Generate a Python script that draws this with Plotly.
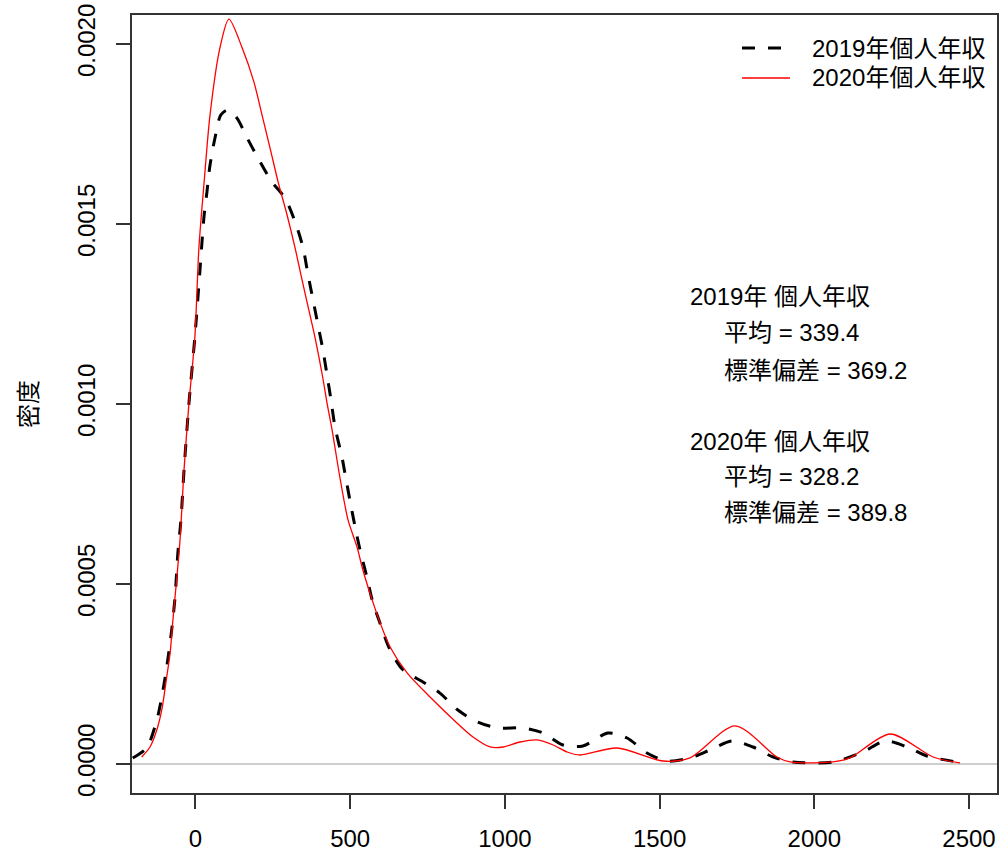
import plotly.graph_objects as go

# 2019 income density (black dashed)
x2019 = [-203, -158, -125, -109, -93, -77, -66, -57, -47, -37, -21, -2, 15, 21, 28, 37, 47, 63, 82, 105,
         134, 167, 202, 247, 289, 322, 348, 364, 380, 396, 412, 425, 438, 451, 474, 483, 499, 516, 532,
         554, 571, 596, 629, 671, 735, 790, 848, 910, 978, 1059, 1123, 1188, 1252, 1333, 1395, 1459,
         1524, 1598, 1663, 1734, 1802, 1867, 1931, 2060, 2157, 2229, 2300, 2364, 2461]
y2019 = [0.0000167, 0.0000444, 0.000122, 0.000186, 0.000269, 0.000372, 0.000464, 0.000586, 0.000678,
         0.000817, 0.001003, 0.001186, 0.001378, 0.00145, 0.001525, 0.001589, 0.001664, 0.001739,
         0.001803, 0.001817, 0.001794, 0.001739, 0.001683, 0.001617, 0.001572, 0.001506, 0.001433,
         0.001358, 0.001289, 0.001219, 0.00115, 0.001081, 0.001011, 0.000936, 0.00085, 0.000808,
         0.000733, 0.000658, 0.000594, 0.000519, 0.000456, 0.000392, 0.000317, 0.000261, 0.000228,
         0.000197, 0.00015, 0.000117, 0.0001, 0.0001, 0.0000861, 0.0000528, 0.00005, 0.0000861,
         0.0000722, 0.0000306, 0.0000083, 0.0000167, 0.0000389, 0.0000639, 0.0000472, 0.0000194,
         0.0000056, 0.0000056, 0.0000333, 0.0000639, 0.0000472, 0.0000222, 0.0000056]

# 2020 income density (red solid)
x2020 = [-174, -147, -125, -109, -93, -82, -73, -61, -50, -37, -21, -2, 11, 28, 47, 79, 108, 151, 189,
         215, 241, 267, 296, 322, 341, 360, 386, 411, 425, 441, 467, 493, 522, 541, 571, 596, 629, 684,
         758, 845, 897, 952, 994, 1049, 1104, 1156, 1201, 1243, 1362, 1511, 1598, 1744, 1879, 1922,
         2060, 2115, 2245, 2384, 2471]
y2020 = [0.0000194, 0.0000472, 0.0000944, 0.00015, 0.000242, 0.000308, 0.0004, 0.000511, 0.000622,
         0.000817, 0.001003, 0.001186, 0.001433, 0.001617, 0.001803, 0.001989, 0.002069, 0.001989,
         0.001894, 0.001803, 0.001711, 0.001617, 0.001525, 0.001433, 0.001358, 0.001285, 0.001186,
         0.001075, 0.001003, 0.00093, 0.000795, 0.000678, 0.000603, 0.000539, 0.000456, 0.000394,
         0.000325, 0.000253, 0.000186, 0.000114, 0.000075, 0.0000472, 0.0000472, 0.0000611,
         0.0000667, 0.0000528, 0.0000333, 0.000025, 0.0000444, 0.0000083, 0.0000167, 0.000106,
         0.0000194, 0.0000056, 0.0000056, 0.0000167, 0.0000833, 0.0000194, 0.0000028]

series_names = ["2019年個人年収", "2020年個人年収"]
x_ticks = [0, 500, 1000, 1500, 2000, 2500]
y_ticks = [0, 0.0005, 0.001, 0.0015, 0.002]
y_ticklabels = ["0.0000", "0.0005", "0.0010", "0.0015", "0.0020"]
stats_lines = ["2019年 個人年収", "平均 = 339.4", "標準偏差 = 369.2",
               "2020年 個人年収", "平均 = 328.2", "標準偏差 = 389.8"]

FONT = "Liberation Sans, Arial, Noto Sans CJK JP, sans-serif"

W, H = 1000, 858
L, R, T, B = 132, 3, 15, 65
pw, ph = W - L - R, H - T - B

def px_to_paper_x(px):
    return (px - L) / pw

def px_to_paper_y(py):
    return 1 - (py - T) / ph

styles = [dict(color="black", width=3, dash="13px,13px"),
          dict(color="#FF0000", width=1.3)]

fig = go.Figure()
fig.add_hline(y=0, line=dict(color="#BEBEBE", width=1.5), layer="below")
fig.add_trace(go.Scatter(x=x2019, y=y2019, mode="lines", name=series_names[0],
                         line=dict(shape="spline", smoothing=0.8, **styles[0]), showlegend=False))
fig.add_trace(go.Scatter(x=x2020, y=y2020, mode="lines", name=series_names[1],
                         line=dict(shape="spline", smoothing=0.8, **styles[1]), showlegend=False))

# manual legend (R-style, no box)
legend_rows = [48, 78]
for name, st, ry in zip(series_names, styles, legend_rows):
    fig.add_shape(type="line", xref="paper", yref="paper",
                  x0=px_to_paper_x(742), x1=px_to_paper_x(790),
                  y0=px_to_paper_y(ry), y1=px_to_paper_y(ry), line=st)
    fig.add_annotation(text=name, xref="paper", yref="paper",
                       x=px_to_paper_x(810), y=px_to_paper_y(ry),
                       xanchor="left", yanchor="middle", showarrow=False,
                       font=dict(size=24, color="black", family=FONT))

# stats text block
line_y = [297, 333, 370, 441, 476, 512]
line_x = [688, 722, 722, 688, 722, 722]
for txt, lx, ly in zip(stats_lines, line_x, line_y):
    fig.add_annotation(text=txt, xref="paper", yref="paper",
                       x=px_to_paper_x(lx), y=px_to_paper_y(ly),
                       xanchor="left", yanchor="middle", showarrow=False,
                       font=dict(size=24, color="black", family=FONT))

axis_common = dict(showline=True, linecolor="#333333", linewidth=1.5, mirror=True,
                   ticks="outside", ticklen=14, tickwidth=1.5, tickcolor="#333333",
                   showgrid=False, zeroline=False, automargin=False,
                   tickfont=dict(size=24, color="black", family=FONT))

fig.update_layout(
    width=W, height=H,
    margin=dict(l=L, r=R, t=T, b=B),
    plot_bgcolor="white", paper_bgcolor="white",
    font=dict(family=FONT, size=24, color="black"),
    showlegend=False,
    xaxis=dict(range=[-205.2, 2590.5], tickvals=x_ticks, ticklabelstandoff=9, **axis_common),
    yaxis=dict(range=[-0.0000806, 0.0020806], tickvals=y_ticks, ticktext=y_ticklabels,
               tickangle=-90, ticklabelstandoff=12,
               title=dict(text="密度", font=dict(size=24, family=FONT), standoff=28),
               **axis_common),
)

fig.write_html("out.html")
